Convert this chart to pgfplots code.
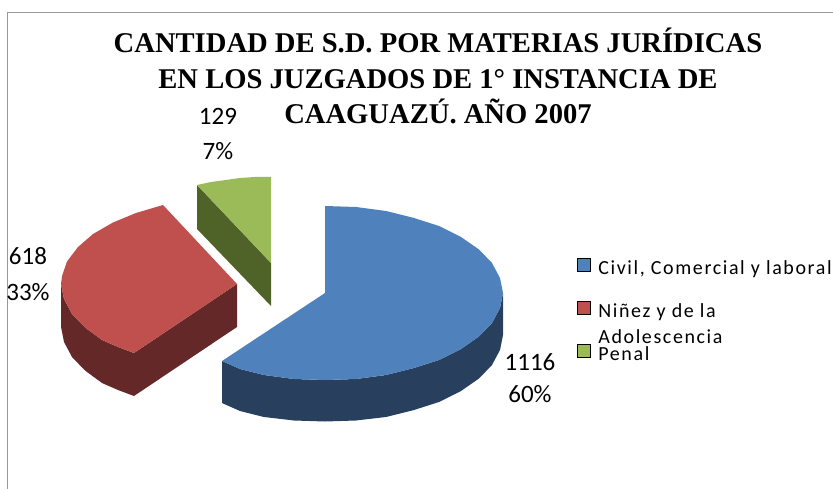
\documentclass[border=0pt]{standalone}
\usepackage{pgfplots}
\pgfplotsset{compat=1.18}
\usepackage{fontspec}
\setmainfont{Carlito}
\newfontfamily\titlefont{Liberation Serif}
\newfontfamily\legfont[LetterSpace=8]{Carlito}
\definecolor{bluetop}{HTML}{4F81BD}
\definecolor{blueside}{HTML}{28405E}
\definecolor{redtop}{HTML}{C0504D}
\definecolor{redside}{HTML}{632827}
\definecolor{greentop}{HTML}{9BBB59}
\definecolor{greenside}{HTML}{4F6228}
\begin{document}
\begin{tikzpicture}[x=1pt,y=1pt]
\path[use as bounding box] (0,0) rectangle (833,489);
\begin{axis}[
  at={(0,0)}, anchor=south west,
  scale only axis, width=833pt, height=489pt,
  xmin=0, xmax=833, ymin=0, ymax=489, y dir=reverse,
  axis lines=none, clip=true,
  legend cell align=left,
  legend image code/.code={\fill[#1] (0pt,-3pt) rectangle (13pt,10pt);},
  legend style={at={(axis cs:577,258)}, anchor=north west, draw=none, fill=none,
    inner sep=0pt, outer sep=0pt, row sep=25pt,
    font=\fontsize{20}{20}\selectfont\legfont,
    nodes={inner sep=0pt, outer sep=0pt},
    column sep=8pt},
]
\addlegendimage{fill=bluetop}
\addlegendentry{Civil, Comercial y laboral}
\addlegendimage{fill=redtop}
\addlegendentry{\rlap{\smash{\begin{tabular}[t]{@{}l@{}}Niñez y de la\\[6pt]Adolescencia\end{tabular}}}\phantom{Ni}}
\addlegendimage{fill=greentop}
\addlegendentry{Penal}

% frame
\addplot[forget plot, color=black!40, line width=1pt] coordinates {(833,12.5) (7.5,12.5) (7.5,489)};

% green slice
\addplot[forget plot, fill=greenside, draw=none] coordinates {(197,185) (271,263) (271,306) (197,229)} --cycle;
\addplot[forget plot, fill=greentop, draw=none] coordinates {(271,263) (197,185) (211,182) (226,180) (240,178) (255,177) (271,177)} --cycle;

% red slice
\addplot[forget plot, fill=redside, draw=none] coordinates {(61,284) (64,299) (72,314) (85,327.5) (102,340) (118,347) (134,353) (134,396) (118,390) (102,383) (85,370.5) (72,357) (64,342) (61,327)} --cycle;
\addplot[forget plot, fill=redside, draw=none] coordinates {(134,353) (237,284) (237,327) (134,396)} --cycle;
\addplot[forget plot, fill=redtop, draw=none] coordinates {(237,284) (163,205) (136,213) (113,222.5) (93,234) (78,247) (67,261.5) (62,276) (61,284) (64,299) (72,314) (85,327.5) (102,340) (118,347) (134,353)} --cycle;

% blue slice
\addplot[forget plot, fill=blueside, draw=none] coordinates {(503,293) (500,308) (492,323) (479,336.5) (461,349) (439,360) (414,368) (386,375) (356,379) (325,380) (294,379) (264,375) (240,369) (222,361) (222,403) (240,411) (264,417) (294,420.5) (325,421.5) (356,420.5) (386,417) (414,410) (439,402) (461,391) (479,378.5) (492,365) (500,350) (503,335)} --cycle;
\addplot[forget plot, fill=bluetop, draw=none] coordinates {(325,293) (325,206) (356,207) (386,211) (414,218) (439,226) (461,237) (479,249.5) (492,263) (500,278) (503,293) (500,308) (492,323) (479,336.5) (461,349) (439,360) (414,368) (386,375) (356,379) (325,380) (294,379) (264,375) (240,369) (222,361)} --cycle;

% title
\node[font=\fontsize{28.6}{28.6}\selectfont\titlefont\bfseries, anchor=base] at (axis cs:438,53) {CANTIDAD DE S.D. POR MATERIAS JURÍDICAS};
\node[font=\fontsize{28.6}{28.6}\selectfont\titlefont\bfseries, anchor=base] at (axis cs:438,89) {EN LOS JUZGADOS DE 1° INSTANCIA DE};
\node[font=\fontsize{28.6}{28.6}\selectfont\titlefont\bfseries, anchor=base] at (axis cs:438,124) {CAAGUAZÚ. AÑO 2007};

% data labels
\node[font=\fontsize{25}{25}\selectfont, anchor=base] at (axis cs:218,125) {129};
\node[font=\fontsize{25}{25}\selectfont, anchor=base] at (axis cs:218,160) {7\%};
\node[font=\fontsize{25}{25}\selectfont, anchor=base] at (axis cs:28,265) {618};
\node[font=\fontsize{25}{25}\selectfont, anchor=base] at (axis cs:28,300) {33\%};
\node[font=\fontsize{25}{25}\selectfont, anchor=base] at (axis cs:530,370) {1116};
\node[font=\fontsize{25}{25}\selectfont, anchor=base] at (axis cs:530,402) {60\%};
\end{axis}
\end{tikzpicture}
\end{document}
